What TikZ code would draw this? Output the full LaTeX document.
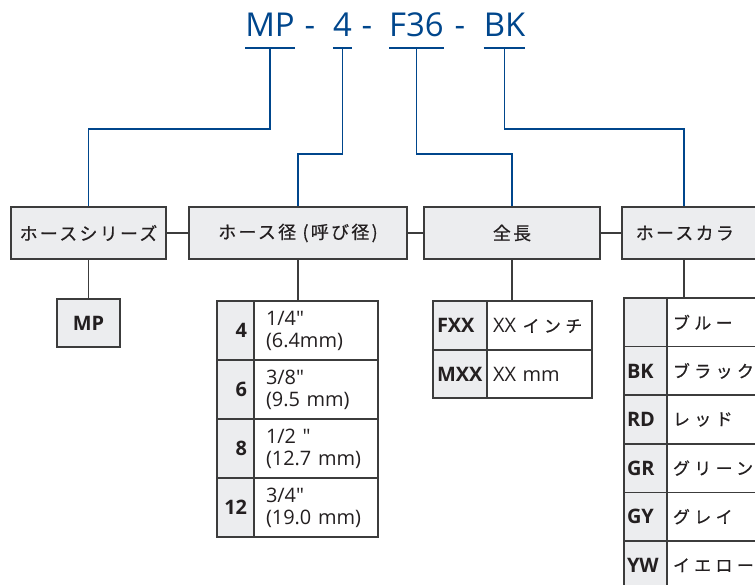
\documentclass[tikz,border=0pt]{standalone}
\usepackage{fontspec}
\setmainfont{Open Sans}[Ligatures=TeXOff]
\newfontfamily\jplabel[LetterSpace=13, FakeBold=0.5]{Noto Sans CJK JP}
\newfontfamily\jpcell[LetterSpace=26, FakeBold=0.5]{Noto Sans CJK JP}
\usetikzlibrary{positioning}
\definecolor{CodeBlue}{RGB}{0,70,140}
\definecolor{FrameGray}{RGB}{60,60,60}
\definecolor{CellGray}{RGB}{236,237,239}
\definecolor{InkGray}{RGB}{35,31,32}

\begin{document}
\begin{tikzpicture}[x=1bp, y=-1bp, text=InkGray, font=\fontsize{20}{22}\selectfont]
\tikzset{
  code/.style={font=\fontsize{33}{36}\selectfont, text=CodeBlue, anchor=base, text depth=0pt, inner xsep=0pt, inner ysep=11bp},
  codesep/.style={font=\fontsize{33}{36}\selectfont, text=CodeBlue, anchor=base, inner sep=0pt},
  codeline/.style={draw=CodeBlue, line width=1.7bp},
  head/.style={draw=FrameGray, fill=CellGray, line width=1.5bp, minimum height=52bp, font=\jplabel\fontsize{18}{20}\selectfont},
  keycell/.style={draw=FrameGray, fill=CellGray, line width=1.5bp, outer sep=0pt, font=\bfseries\fontsize{20}{22}\selectfont},
  valcell/.style={draw=FrameGray, fill=white, line width=1.5bp, outer sep=0pt, align=left},
  link/.style={draw=FrameGray, line width=1.3bp}
}
  \useasboundingbox (0,0) rectangle (755,585);
  \clip (0,0) rectangle (755,585);

  % part number
  \node[code] (tMP) at (270,37) {MP};
  \node[codesep] (tD1) at (310,37) {-};
  \node[code] (t4) at (342.5,37) {4};
  \node[codesep] (tD2) at (367,37) {-};
  \node[code] (tF) at (416.5,37) {F36};
  \node[codesep] (tD3) at (460,37) {-};
  \node[code] (tBK) at (504.5,37) {BK};
  \foreach \t in {tMP,t4,tF,tBK}
    \draw[codeline] (\t.south west) -- (\t.south east);

  % headings
  \node[head, minimum width=155bp] (hs) at (88.5,233) {ホースシリーズ};
  \node[head, minimum width=218bp] (hd) at (298,233) {ホース径 (呼び径)};
  \node[head, minimum width=176bp] (hl) at (512,233) {全長};
  \node[head, anchor=west, text width=172bp, inner xsep=14bp, align=left] (hc) at (621,233) {ホースカラ};
  \draw[link] (hs) -- (hd);
  \draw[link] (hd) -- (hl);
  \draw[link] (hl) -- (hc);

  % blue leaders
  \coordinate (k1) at (88.5,129);
  \coordinate (k2) at (298,154);
  \coordinate (k3) at (512,154);
  \coordinate (k4) at (684,129);
  \draw[codeline] (tMP.south) |- (k1) -- (hs.north);
  \draw[codeline] (t4.south) |- (k2) -- (hd.north);
  \draw[codeline] (tF.south) |- (k3) -- (hl.north);
  \draw[codeline] (tBK.south) |- (k4) -- (k4 |- hc.north);

  % series
  \node[keycell, minimum width=63bp, minimum height=48bp] (sMP) at (88.5,323) {MP};
  \draw[link] (hs) -- (sMP);

  % hose size
  \foreach \k/\a/\b [count=\i] in {4/{1/4"}/{(6.4mm)}, 6/{3/8"}/{(9.5 mm)}, 8/{1/2 "}/{(12.7 mm)}, 12/{3/4"}/{(19.0 mm)}} {
    \node[keycell, anchor=north west, minimum height=59bp, text width=23bp, inner xsep=7bp, align=right] (d\i k) at (217,{301+59*(\i-1)}) {\k};
    \node[valcell, right=0pt of d\i k, minimum height=59bp, text width=100bp, inner xsep=12bp] (d\i v) {\a\\\b};
  }
  \draw[link] (hd) -- (hd.south |- d1v.north);

  % length
  \node[keycell, anchor=north west, minimum height=49bp, text width=46bp, inner xsep=4bp, align=left] (l1k) at (433,301) {FXX};
  \node[valcell, right=0pt of l1k, minimum height=49bp, text width=93bp, inner xsep=6bp] (l1v) {XX {\jpcell\fontsize{17}{20}\selectfont インチ}};
  \node[keycell, below=0pt of l1k, minimum height=48bp, text width=46bp, inner xsep=4bp, align=left] (l2k) {MXX};
  \node[valcell, right=0pt of l2k, minimum height=48bp, text width=93bp, inner xsep=6bp] (l2v) {XX mm};
  \draw[link] (hl) -- (hl.south |- l1v.north);

  % colour
  \foreach \k/\v [count=\i] in {{}/ブルー, BK/ブラック, RD/レッド, GR/グリーン, GY/グレイ, YW/イエロー} {
    \node[keycell, anchor=north west, minimum height=48.6bp, text width=37bp, inner xsep=3bp, align=left] (c\i k) at (624,{298+48.6*(\i-1)}) {\k};
    \node[valcell, right=0pt of c\i k, minimum height=48.6bp, text width=188bp, inner xsep=6bp, font=\jpcell\fontsize{17}{20}\selectfont] (c\i v) {\v};
  }
  \draw[link] (k4 |- hc.south) -- (k4 |- c1v.north);
\end{tikzpicture}
\end{document}
